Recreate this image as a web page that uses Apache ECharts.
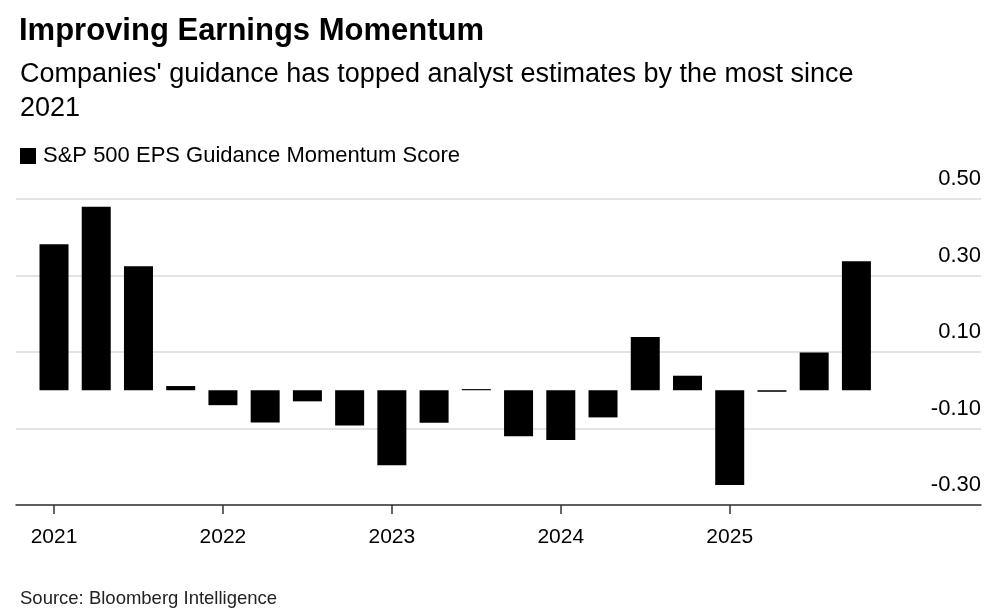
<!DOCTYPE html>
<html>
<head>
<meta charset="utf-8">
<script src="https://cdn.jsdelivr.net/npm/echarts@6/dist/echarts.min.js"></script>
<style>
html,body{margin:0;padding:0;background:#fff;}
#chart{width:996px;height:615px;}
</style>
</head>
<body>
<div id="chart"></div>
<script>
// Quarterly categories, 2021 Q1 .. 2025 Q4
const quarters = ['2021 Q1','2021 Q2','2021 Q3','2021 Q4','2022 Q1','2022 Q2','2022 Q3','2022 Q4',
  '2023 Q1','2023 Q2','2023 Q3','2023 Q4','2024 Q1','2024 Q2','2024 Q3','2024 Q4',
  '2025 Q1','2025 Q2','2025 Q3','2025 Q4'];
const scores = [0.382, 0.480, 0.324, 0.011, -0.039, -0.084, -0.029, -0.092, -0.196, -0.085,
  0.003, -0.120, -0.130, -0.071, 0.139, 0.038, -0.248, -0.004, 0.099, 0.337];
const yearTickIdx = [0, 4, 8, 12, 16];
const yearLabels = ['2021', '2022', '2023', '2024', '2025'];
const yTicks = [-0.3, -0.1, 0.1, 0.3, 0.5];

const FONT = '"Liberation Sans", Arial, sans-serif';
const chart = echarts.init(document.getElementById('chart'));
const seriesData = scores.map((v, i) => [i, v]);

chart.setOption({
  animation: false,
  backgroundColor: '#fff',
  textStyle: { fontFamily: FONT },
  title: [
    { text: 'Improving Earnings Momentum', left: 14, top: 11,
      textStyle: { fontFamily: FONT, fontSize: 31, fontWeight: 'bold', color: '#000' } },
    { text: "Companies' guidance has topped analyst estimates by the most since\n2021", left: 15, top: 53,
      textStyle: { fontFamily: FONT, fontSize: 27, fontWeight: 'normal', color: '#000', lineHeight: 34 } },
    { text: 'Source: Bloomberg Intelligence', left: 15, top: 584,
      textStyle: { fontFamily: FONT, fontSize: 18.5, fontWeight: 'normal', color: '#222' } }
  ],
  legend: {
    left: 15, top: 140, icon: 'rect', itemWidth: 16, itemHeight: 16, itemGap: 10,
    textStyle: { fontFamily: FONT, fontSize: 22, color: '#000', padding: [0, 0, 0, 2] },
    data: ['S&P 500 EPS Guidance Momentum Score']
  },
  grid: { left: 16, right: 15, top: 199, bottom: 110, containLabel: false },
  xAxis: {
    type: 'value', min: -0.9, max: 21.95,
    splitLine: { show: false },
    axisLine: { show: true, onZero: false, lineStyle: { color: '#333', width: 1.5 } },
    axisTick: { show: true, length: 9, customValues: yearTickIdx, lineStyle: { color: '#333', width: 1.5 } },
    axisLabel: {
      customValues: yearTickIdx, margin: 22, fontSize: 21, color: '#000', fontFamily: FONT,
      formatter: v => yearLabels[yearTickIdx.indexOf(Math.round(v))] || ''
    }
  },
  yAxis: {
    type: 'value', position: 'right', min: -0.3, max: 0.5,
    axisLine: { show: false },
    axisTick: { show: false, customValues: yTicks },
    splitLine: { show: true, lineStyle: { color: '#dadada', width: 1.5 } },
    axisLabel: {
      customValues: yTicks, inside: true, margin: 0, fontSize: 22, color: '#000', fontFamily: FONT,
      verticalAlign: 'bottom', padding: [0, 0, 9, 0],
      formatter: v => v.toFixed(2)
    }
  },
  series: [{
    name: 'S&P 500 EPS Guidance Momentum Score',
    type: 'bar', barWidth: 29, data: seriesData,
    itemStyle: { color: '#000' }
  }]
});
</script>
</body>
</html>
